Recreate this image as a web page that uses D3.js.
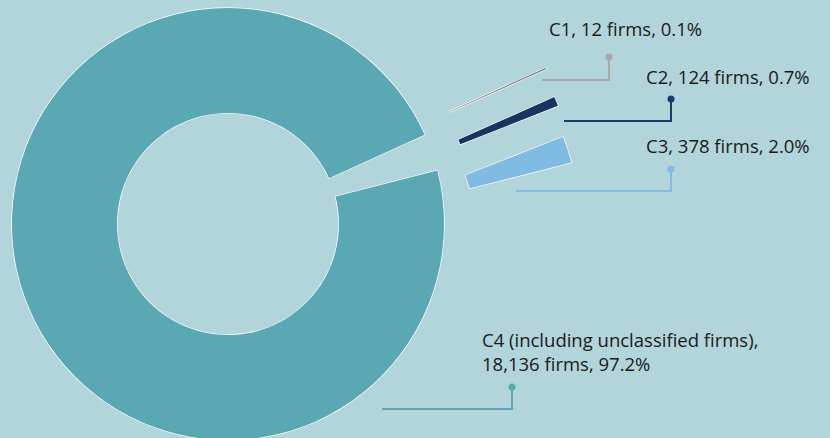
<!DOCTYPE html>
<html>
<head>
<meta charset="utf-8">
<script src="https://cdn.jsdelivr.net/npm/d3@7"></script>
<style>
  html, body { margin: 0; padding: 0; background: #b2d4db; }
  svg { display: block; }
</style>
</head>
<body>
<svg id="chart" width="830" height="438"></svg>
<script>
// Firm classes, counts and shares
const categories = ["C1", "C2", "C3", "C4"];
const categoryNotes = ["", "", "", "(including unclassified firms)"];
const firms = [12, 124, 378, 18136];
const shares = [0.1, 0.7, 2.0, 97.2];

// Styling
const sliceColors = ["#7a7a7a", "#17365f", "#80bbe3", "#59a8b3"];
const leaderColors = ["#a8a8a8", "#1c3c68", "#80bbe3", "#5aa8b3"];

const width = 830, height = 438;
const cx = 228, cy = 224;
const outerR = 216, innerR = 111;
const startDeg = 65.6;

// Pulled-out offsets for the small slices
const explode = [[121, -67], [129, -39], [134, -8], [0, 0]];

// Label and leader placement: text x, first baseline, leader start x, leader y, dot x, dot y
const labelLayout = [
  { tx: 549, ty: 36,  lx0: 542, ly: 80,  dx: 609, dy: 57 },
  { tx: 646, ty: 84,  lx0: 564, ly: 121, dx: 671, dy: 99 },
  { tx: 646, ty: 153, lx0: 516, ly: 191, dx: 671, dy: 169 },
  { tx: 482, ty: 347, lx0: 382, ly: 409, dx: 512, dy: 387 }
];

const svg = d3.select("#chart");
svg.append("rect").attr("width", width).attr("height", height).attr("fill", "#b2d4db");

const pie = d3.pie()
  .sort(null)
  .value(d => d)
  .startAngle(startDeg * Math.PI / 180)
  .endAngle(startDeg * Math.PI / 180 + 2 * Math.PI);

const arc = d3.arc().innerRadius(innerR).outerRadius(outerR);

const arcs = pie(shares);

const g = svg.append("g").attr("transform", `translate(${cx},${cy})`);

// White outline sits under the fill so the thinnest slice keeps its colour
g.selectAll("path.slice")
  .data(arcs)
  .join("path")
  .attr("class", "slice")
  .attr("d", arc)
  .attr("transform", (d, i) => `translate(${explode[i][0]},${explode[i][1]})`)
  .attr("fill", (d, i) => sliceColors[i])
  .attr("stroke", "#ffffff")
  .attr("stroke-width", 1.3)
  .attr("stroke-linejoin", "miter")
  .style("paint-order", "stroke");

// Leaders and labels
const fmt = d3.format(",");
const labels = svg.append("g");

categories.forEach((c, i) => {
  const L = labelLayout[i];
  labels.append("path")
    .attr("d", `M${L.lx0},${L.ly}H${L.dx}V${L.dy}`)
    .attr("fill", "none")
    .attr("stroke", leaderColors[i])
    .attr("stroke-width", 2);
  labels.append("circle")
    .attr("cx", L.dx).attr("cy", L.dy).attr("r", 3.5)
    .attr("fill", leaderColors[i]);

  const countText = `${fmt(firms[i])} firms, ${shares[i].toFixed(1)}%`;
  const lines = categoryNotes[i]
    ? [`${c} ${categoryNotes[i]},`, countText]
    : [`${c}, ${countText}`];

  const t = labels.append("text")
    .attr("x", L.tx).attr("y", L.ty)
    .attr("fill", "#1a1a1a")
    .style("font-family", "'Open Sans', 'Noto Sans', sans-serif")
    .style("font-size", "18.5px");
  lines.forEach((s, k) => {
    t.append("tspan").attr("x", L.tx).attr("dy", k === 0 ? 0 : 23.5).text(s);
  });
});
</script>
</body>
</html>
